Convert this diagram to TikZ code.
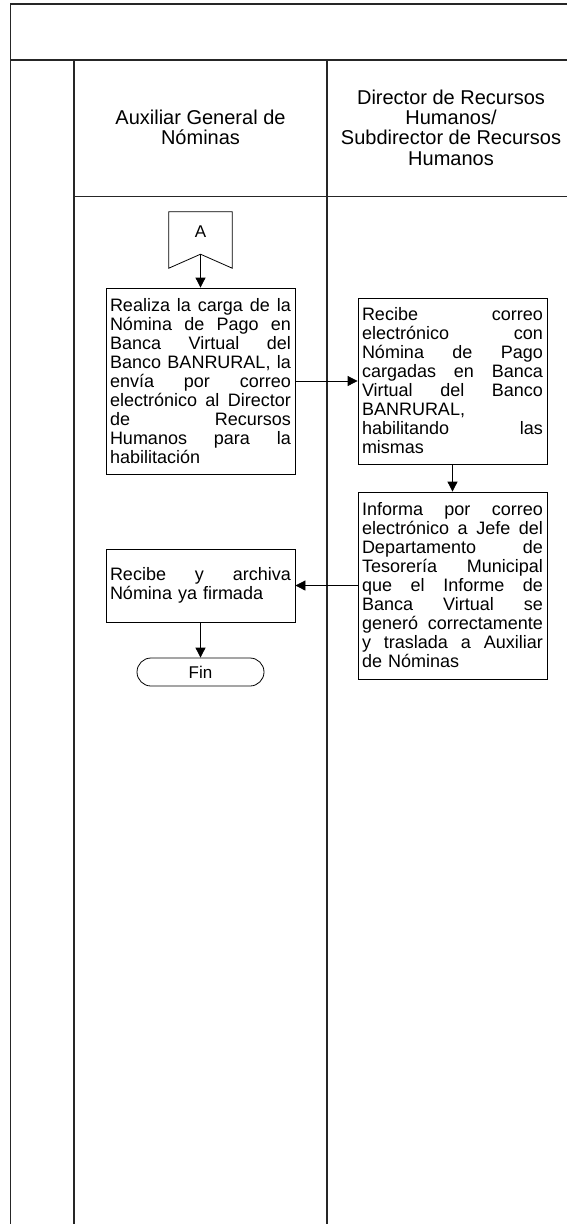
\documentclass[tikz,border=0pt]{standalone}
\usepackage{fontspec}
\setmainfont{Liberation Sans}
\usetikzlibrary{arrows.meta}
\newcommand{\J}[1]{\leavevmode\hbox to 181pt{#1}}
\begin{document}
\begin{tikzpicture}[x=1pt,y=-1pt,
  frame/.style={line width=1.1pt, draw=black!85},
  hdr/.style={align=center, inner sep=0pt, font=\fontsize{20}{20.3}\selectfont},
  procbox/.style={draw, line width=0.8pt, text width=181pt, inner xsep=4pt, inner ysep=2pt, align=left, font=\fontsize{18}{19}\selectfont},
  flow/.style={line width=0.8pt, -{Triangle[length=10pt,width=10pt]}},
  shapeline/.style={draw, line width=0.8pt}
]
\useasboundingbox (0,0) rectangle (567,1224);
\clip (0,0) rectangle (567,1224);
% frame
\draw[frame] (10.5,1230) -- (10.5,4) -- (580,4);
\draw[frame] (10.5,60) -- (580,60);
\draw[frame] (74,60) -- (74,1230);
\draw[frame] (327,60) -- (327,1230);
\draw[frame] (74,196.5) -- (580,196.5);
\draw[frame] (575,4) -- (575,1230);
% headers
\node[hdr] (hL) at (200.5,127.5) {Auxiliar General de\\Nóminas};
\node[hdr] (hR) at (451,127.5) {Director de Recursos\\Humanos/\\Subdirector de Recursos\\Humanos};
% off-page connector A
\node[minimum width=63pt, minimum height=56pt, inner sep=0pt] (A) at (200.5,240) {};
\draw[shapeline] (A.north west) -- (A.north east) -- (A.south east) -- ([yshift=14pt]A.south) -- (A.south west) -- cycle;
\coordinate (Aapex) at ([yshift=14pt]A.south);
\node[font=\fontsize{17}{18}\selectfont, inner sep=0pt] (Alabel) at ([yshift=8pt]A.center) {A};
% process boxes
\node[procbox, minimum height=186pt] (b1) at (200.5,381) {%
\J{Realiza\hfill la\hfill carga\hfill de\hfill la}\\
\J{Nómina\hfill de\hfill Pago\hfill en}\\
\J{Banca\hfill Virtual\hfill del}\\
\J{Banco\hfill BANRURAL,\hfill la}\\
\J{envía\hfill por\hfill correo}\\
\J{electrónico\hfill al\hfill Director}\\
\J{de\hfill Recursos}\\
\J{Humanos\hfill para\hfill la}\\
habilitación};
\node[procbox, minimum height=166pt] (b2) at (452.5,381) {%
\J{Recibe\hfill correo}\\
\J{electrónico\hfill con}\\
\J{Nómina\hfill de\hfill Pago}\\
\J{cargadas\hfill en\hfill Banca}\\
\J{Virtual\hfill del\hfill Banco}\\
BANRURAL,\\
\J{habilitando\hfill las}\\
mismas};
\node[procbox, minimum height=187pt] (b3) at (452.5,585.5) {%
\J{Informa\hfill por\hfill correo}\\
\J{electrónico\hfill a\hfill Jefe\hfill del}\\
\J{Departamento\hfill de}\\
\J{Tesorería\hfill Municipal}\\
\J{que\hfill el\hfill Informe\hfill de}\\
\J{Banca\hfill Virtual\hfill se}\\
\J{generó\hfill correctamente}\\
\J{y\hfill traslada\hfill a\hfill Auxiliar}\\
de Nóminas};
\node[procbox, minimum height=73pt] (b4) at (200.5,585.5) {%
\J{Recibe\hfill y\hfill archiva}\\
Nómina ya firmada};
\node[draw, line width=0.8pt, rounded corners=14pt, minimum width=127pt, minimum height=28pt, inner sep=0pt, font=\fontsize{17}{18}\selectfont] (fin) at (200.5,672) {Fin};
% connectors
\draw[flow] (Aapex) -- (b1.north);
\draw[flow] (b1.east) -- (b2.west);
\draw[flow] (b2.south) -- (b3.north);
\draw[flow] (b3.west) -- (b4.east);
\draw[flow] (b4.south) -- (fin.north);
\end{tikzpicture}
\end{document}
